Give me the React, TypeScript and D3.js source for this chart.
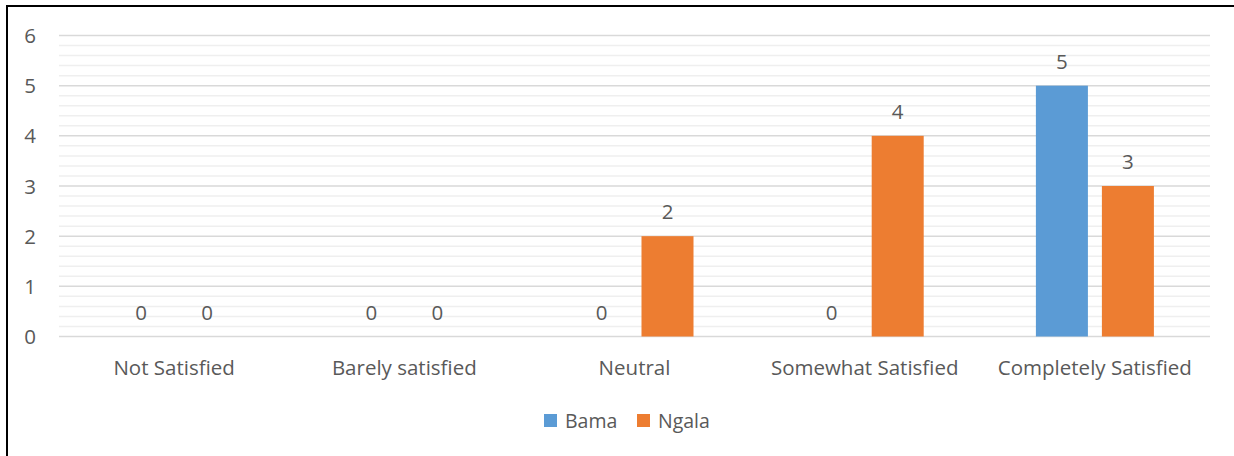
import React from "react";
import * as d3 from "d3";

const categories = [
  "Not Satisfied",
  "Barely satisfied",
  "Neutral",
  "Somewhat Satisfied",
  "Completely Satisfied",
];
const seriesNames = ["Bama", "Ngala"];
const bamaValues = [0, 0, 0, 0, 5];
const ngalaValues = [0, 0, 2, 4, 3];
const yTicks = [0, 1, 2, 3, 4, 5, 6];
const colors = ["#5b9bd5", "#ed7d31"];

const W = 1234;
const H = 456;
const FONT = "'Open Sans', sans-serif";
const TEXT = "#595959";
const FS = 20.5;

export default function App() {
  const x = d3.scaleBand<string>().domain(categories).range([59, 1210]);
  const xs = d3.scaleBand<string>().domain(seriesNames).range([-59, 59]).paddingInner(0.212);
  const y = d3.scaleLinear().domain([0, 6]).range([336.5, 35.5]);
  const minor = d3.range(0, 30).map((i) => i * 0.2).filter((v, i) => i % 5 !== 0);
  const series = [bamaValues, ngalaValues];

  return (
    <svg
      width={W}
      height={H}
      style={{ position: "absolute", left: 0, top: 0, background: "#fff" }}
      fontFamily={FONT}
    >
      {/* frame */}
      <line x1={6} x2={W} y1={6} y2={6} stroke="#000" strokeWidth={2} />
      <line x1={7} x2={7} y1={5} y2={H} stroke="#000" strokeWidth={2} />

      {/* minor gridlines */}
      {minor.map((v) => (
        <line key={"m" + v} x1={59} x2={1210} y1={y(v)} y2={y(v)} stroke="#efefef" strokeWidth={1.5} />
      ))}
      {/* major gridlines */}
      {yTicks.map((v) => (
        <line key={"g" + v} x1={59} x2={1210} y1={y(v)} y2={y(v)} stroke="#d9d9d9" strokeWidth={1.5} />
      ))}
      {/* y tick labels */}
      {yTicks.map((v) => (
        <text key={"t" + v} x={36} y={y(v) + 7.5} textAnchor="end" fontSize={FS} fill={TEXT}>
          {v}
        </text>
      ))}

      {/* bars and value labels */}
      {categories.map((c, ci) => {
        const cx = (x(c) as number) + x.bandwidth() / 2;
        return (
          <g key={c}>
            {series.map((vals, si) => {
              const bx = cx + (xs(seriesNames[si]) as number);
              const v = vals[ci];
              return (
                <g key={si}>
                  {v > 0 && (
                    <rect x={bx} y={y(v)} width={xs.bandwidth()} height={y(0) - y(v)} fill={colors[si]} />
                  )}
                  <text
                    x={bx + xs.bandwidth() / 2}
                    y={y(v) - 17}
                    textAnchor="middle"
                    fontSize={FS}
                    fill={TEXT}
                  >
                    {v}
                  </text>
                </g>
              );
            })}
            <text x={cx} y={375} textAnchor="middle" fontSize={FS} fill={TEXT}>
              {c}
            </text>
          </g>
        );
      })}

      {/* legend */}
      {seriesNames.map((n, i) => {
        const lx = [544, 637][i];
        return (
          <g key={n}>
            <rect x={lx} y={414} width={13} height={13} fill={colors[i]} />
            <text x={lx + 21} y={428} fontSize={19.5} fill={TEXT}>
              {n}
            </text>
          </g>
        );
      })}
    </svg>
  );
}
